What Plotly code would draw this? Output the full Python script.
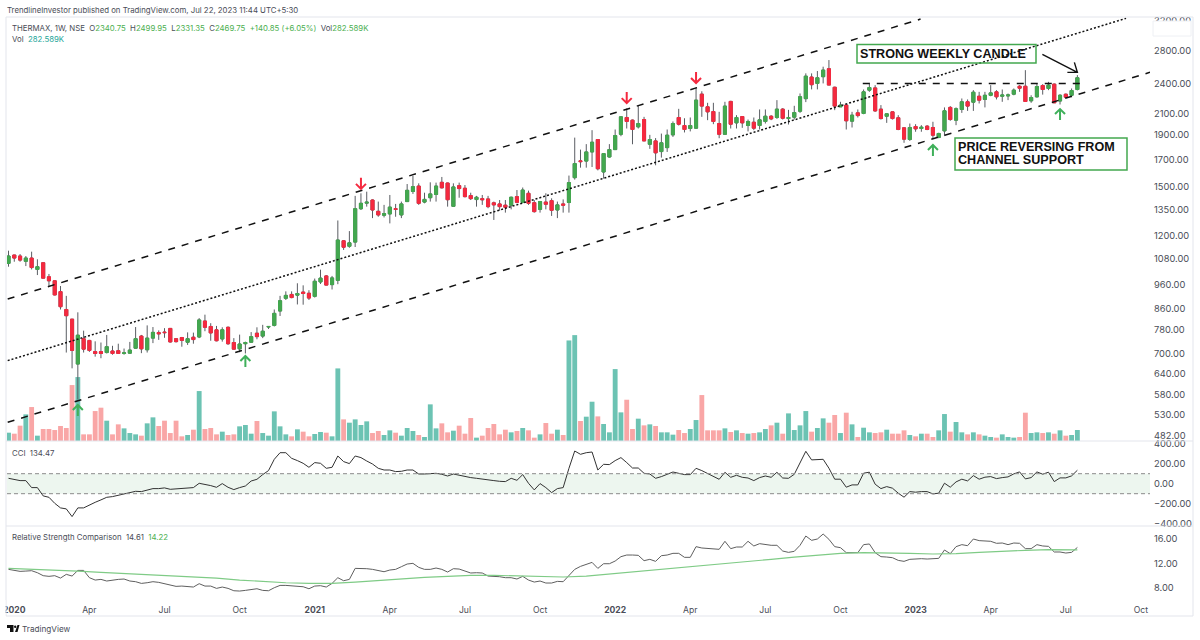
import math
import pandas as pd
import plotly.graph_objects as go

# Weekly bars, THERMAX NSE
weeks = pd.date_range('2019-12-30', periods=186, freq='7D')

opens = [
    1058, 1099, 1094, 1068, 1084, 1029, 1061, 995, 977, 930,
    857, 820, 668, 750, 744, 707, 707, 704, 709, 710,
    701, 702, 718, 759, 713, 752, 771, 773, 786, 750,
    754, 738, 755, 756, 813, 793, 781, 749, 790, 737,
    716, 733, 738, 769, 759, 791, 797, 851, 902, 918,
    915, 928, 923, 910, 972, 999, 960, 979, 1173, 1144,
    1166, 1358, 1393, 1413, 1342, 1318, 1326, 1358, 1320, 1403,
    1469, 1506, 1400, 1428, 1449, 1532, 1527, 1373, 1509, 1491,
    1442, 1416, 1422, 1420, 1395, 1388, 1380, 1380, 1435, 1398,
    1457, 1396, 1354, 1400, 1409, 1350, 1388, 1397, 1565, 1690,
    1688, 1760, 1863, 1606, 1720, 1779, 1908, 2060, 2035, 1974,
    2041, 1823, 1851, 1763, 1795, 1903, 2060, 1986, 1959, 1962,
    2292, 2163, 2117, 2004, 1908, 2217, 2010, 2069, 1986, 2016,
    1986, 2023, 2072, 2060, 2140, 2050, 2063, 2120, 2245, 2478,
    2407, 2482, 2574, 2365, 2163, 2180, 2026, 2104, 2098, 2334,
    2358, 2140, 2072, 2114, 2057, 1965, 1863, 1977, 1959, 1980,
    1968, 1880, 1938, 2157, 2035, 2137, 2213, 2209, 2270, 2237,
    2280, 2316, 2270, 2273, 2292, 2376, 2376, 2223, 2264, 2384,
    2352, 2399, 2221, 2291, 2280, 2340.75,
]
highs = [
    1121, 1100, 1104, 1094, 1116, 1078, 1061, 1008, 977, 954,
    912, 820, 846, 778, 746, 741, 737, 763, 726, 733,
    717, 739, 791, 763, 797, 791, 779, 787, 787, 752,
    756, 772, 771, 824, 837, 805, 795, 790, 793, 752,
    764, 740, 773, 790, 799, 793, 857, 912, 931, 931,
    966, 957, 936, 987, 1028, 1003, 999, 1287, 1177, 1226,
    1440, 1457, 1468, 1417, 1403, 1382, 1446, 1388, 1403, 1520,
    1577, 1525, 1461, 1532, 1530, 1570, 1530, 1525, 1530, 1513,
    1461, 1440, 1446, 1440, 1403, 1413, 1413, 1435, 1479, 1496,
    1475, 1413, 1407, 1457, 1424, 1403, 1417, 1580, 1879, 1779,
    1824, 1944, 1863, 1747, 1824, 1950, 2066, 2147, 2041, 2180,
    2066, 1903, 1875, 1914, 1950, 2023, 2143, 2053, 2060, 2364,
    2322, 2203, 2203, 2114, 2213, 2223, 2082, 2072, 2041, 2060,
    2137, 2137, 2082, 2230, 2150, 2133, 2173, 2299, 2520, 2520,
    2547, 2598, 2678, 2371, 2213, 2180, 2114, 2137, 2341, 2413,
    2388, 2180, 2098, 2114, 2082, 1968, 2004, 1998, 1989, 1989,
    2020, 1921, 2157, 2170, 2157, 2247, 2237, 2334, 2316, 2316,
    2388, 2334, 2341, 2298, 2352, 2388, 2557, 2280, 2406, 2399,
    2424, 2406, 2291, 2298, 2352, 2499.95,
]
lows = [
    1042, 1066, 1066, 1045, 1029, 1003, 989, 954, 914, 857,
    704, 655, 568, 704, 706, 691, 686, 701, 697, 700,
    697, 700, 716, 702, 704, 735, 746, 753, 737, 737,
    723, 729, 733, 752, 776, 743, 741, 740, 729, 714,
    705, 701, 737, 748, 752, 784, 793, 832, 895, 902,
    877, 876, 895, 905, 963, 957, 939, 962, 1125, 1136,
    1140, 1350, 1371, 1301, 1309, 1305, 1270, 1309, 1301, 1403,
    1453, 1382, 1392, 1403, 1403, 1490, 1371, 1371, 1428, 1430,
    1413, 1371, 1382, 1361, 1290, 1346, 1334, 1354, 1392, 1392,
    1382, 1334, 1334, 1354, 1314, 1301, 1334, 1334, 1551, 1638,
    1638, 1643, 1618, 1558, 1715, 1779, 1891, 1959, 1823, 1959,
    1851, 1785, 1656, 1715, 1760, 1885, 1986, 1924, 1933, 1959,
    2066, 2035, 1998, 1874, 1908, 1959, 1959, 1965, 1933, 1944,
    1950, 2004, 2035, 2047, 2041, 1995, 2041, 2104, 2210, 2342,
    2342, 2407, 2389, 2130, 2163, 1950, 1968, 2060, 2091, 2316,
    2114, 2041, 2010, 2041, 1944, 1835, 1851, 1930, 1930, 1944,
    1871, 1874, 1892, 2029, 1989, 2104, 2123, 2123, 2196, 2157,
    2270, 2237, 2213, 2230, 2280, 2316, 2216, 2203, 2257, 2287,
    2334, 2203, 2186, 2260, 2260, 2331.35,
]
closes = [
    1094, 1084, 1074, 1084, 1038, 1042, 989, 977, 916, 868,
    833, 711, 762, 715, 711, 701, 701, 723, 701, 701,
    703, 712, 750, 716, 752, 772, 767, 771, 739, 740,
    744, 750, 747, 817, 790, 770, 743, 781, 733, 715,
    732, 737, 757, 757, 776, 793, 842, 892, 914, 905,
    922, 922, 903, 975, 989, 958, 990, 1177, 1139, 1162,
    1358, 1392, 1399, 1350, 1320, 1328, 1368, 1354, 1388, 1477,
    1502, 1392, 1417, 1453, 1506, 1494, 1415, 1500, 1489, 1435,
    1422, 1431, 1415, 1371, 1382, 1371, 1367, 1431, 1398, 1479,
    1392, 1340, 1403, 1386, 1348, 1382, 1380, 1530, 1669, 1684,
    1760, 1840, 1630, 1747, 1779, 1897, 2066, 2023, 1950, 2004,
    1851, 1863, 1753, 1835, 1900, 2004, 1998, 1950, 1986, 2230,
    2170, 2114, 2023, 1908, 2170, 1998, 2060, 2010, 2023, 1962,
    2038, 2072, 2047, 2140, 2053, 2060, 2107, 2265, 2488, 2393,
    2470, 2558, 2389, 2170, 2180, 2029, 2082, 2078, 2316, 2362,
    2123, 2050, 2095, 2050, 1950, 1866, 1968, 1956, 1971, 1950,
    1900, 1915, 2124, 2041, 2144, 2213, 2170, 2312, 2230, 2280,
    2305, 2264, 2283, 2283, 2334, 2355, 2216, 2257, 2373, 2341,
    2388, 2203, 2280, 2260, 2330, 2469.75,
]
volume_k = [
    214, 188, 394, 685, 873, 137, 308, 308, 282, 385,
    334, 1438, 1644, 171, 171, 770, 856, 522, 171, 428,
    325, 205, 171, 137, 454, 608, 385, 522, 205, 522,
    120, 154, 291, 1284, 308, 334, 171, 240, 154, 171,
    377, 411, 188, 514, 205, 137, 762, 377, 171, 120,
    300, 240, 120, 180, 231, 214, 120, 1866, 556, 471,
    556, 411, 505, 205, 257, 154, 274, 214, 137, 334,
    257, 154, 103, 942, 325, 454, 223, 265, 394, 188,
    591, 86, 137, 334, 437, 171, 291, 223, 257, 334,
    274, 86, 171, 462, 188, 291, 154, 2585, 2722, 514,
    625, 1010, 633, 437, 223, 1849, 736, 1061, 308, 574,
    402, 428, 385, 223, 223, 163, 282, 205, 308, 539,
    1181, 274, 274, 274, 325, 231, 274, 205, 188, 205,
    223, 308, 402, 471, 188, 710, 282, 402, 770, 240,
    334, 582, 471, 668, 205, 728, 428, 103, 342, 223,
    205, 223, 291, 188, 188, 274, 154, 120, 188, 188,
    103, 274, 693, 240, 488, 223, 171, 223, 171, 137,
    103, 86, 171, 103, 86, 103, 728, 205, 223, 205,
    223, 188, 274, 137, 154, 282.589,
]
cci = [
    54, 44, 31, 31, -39, -39, -122, -136, -196, -242,
    -252, -329, -242, -242, -212, -186, -162, -136, -129, -116,
    -102, -92, -76, -79, -62, -49, -49, -42, -56, -52,
    -49, -42, -39, 4, -6, -19, -36, 1, -36, -59,
    -39, -23, 27, 44, 91, 131, 244, 310, 310, 254,
    231, 204, 164, 211, 204, 154, 164, 277, 221, 201,
    277, 261, 227, 197, 154, 137, 137, 121, 124, 137,
    137, 97, 97, 101, 104, 94, 77, 97, 84, 67,
    61, 54, 44, 34, 31, 24, 21, 54, 34, 91,
    4, -62, 1, -39, -89, -49, -39, 154, 327, 294,
    310, 317, 137, 194, 191, 231, 261, 211, 157, 157,
    104, 97, 54, 71, 94, 117, 104, 91, 91, 154,
    131, 104, 77, 44, 114, 64, 84, 64, 57, 31,
    61, 77, 64, 114, 57, 54, 94, 204, 324, 238,
    244, 244, 155, 45, 45, -35, -12, -12, 105, 115,
    -5, -49, -29, -45, -95, -135, -79, -85, -79, -79,
    -102, -95, 5, -35, 18, 45, 28, 81, 45, 65,
    71, 51, 61, 68, 98, 118, 48, 61, 118, 95,
    115, 21, 58, 58, 78, 134.47,
]
rs = [
    11.00, 10.83, 10.67, 10.72, 10.78, 10.45, 9.96, 9.85, 9.96, 9.57,
    10.18, 9.90, 10.83, 10.83, 9.63, 9.24, 9.35, 9.08, 9.24, 9.35,
    9.41, 9.08, 8.97, 8.69, 8.80, 8.97, 8.86, 8.64, 8.31, 8.20,
    8.25, 8.14, 8.09, 8.64, 8.25, 8.25, 7.87, 8.09, 7.87, 7.48,
    7.43, 7.54, 7.65, 7.81, 7.54, 7.48, 7.98, 8.36, 8.36, 8.25,
    8.14, 8.14, 7.81, 8.25, 8.31, 8.09, 8.69, 9.63, 9.13, 9.35,
    11.16, 11.16, 11.11, 11.00, 10.83, 10.61, 10.89, 11.00, 11.44, 11.88,
    11.99, 11.33, 11.00, 11.00, 11.22, 11.00, 10.56, 11.11, 11.05, 10.67,
    10.40, 10.45, 10.40, 9.90, 9.90, 9.79, 9.63, 9.63, 9.41, 9.85,
    9.24, 8.91, 9.08, 8.75, 8.75, 9.02, 8.97, 10.07, 11.00, 11.49,
    11.88, 12.15, 11.16, 11.93, 11.93, 12.37, 13.09, 13.36, 13.36, 13.31,
    12.43, 12.65, 12.32, 13.25, 13.36, 13.64, 13.64, 12.98, 12.98, 14.74,
    14.52, 14.41, 14.30, 14.30, 15.62, 14.41, 14.68, 14.68, 15.62, 14.85,
    15.23, 15.07, 14.96, 14.96, 14.02, 13.80, 13.97, 14.96, 16.49, 15.78,
    16.00, 16.82, 15.95, 14.74, 14.57, 13.75, 13.80, 13.75, 15.07, 15.18,
    13.75, 13.09, 13.03, 12.92, 12.48, 12.32, 12.65, 12.76, 12.76, 12.70,
    12.76, 12.81, 14.19, 13.58, 14.74, 15.07, 14.90, 16.00, 15.73, 15.73,
    15.62, 15.29, 15.34, 15.07, 15.34, 15.29, 14.41, 14.41, 15.07, 14.85,
    14.79, 13.86, 13.86, 13.69, 13.80, 14.61,
]
# the slow average is smooth, so it is read every fourth bar
rs_ma_bars = list(range(0, 186, 4)) + [185]
rs_ma = [
    11.16, 11.05, 10.89, 10.72, 10.51, 10.34, 10.12, 9.96, 9.79, 9.57,
    9.24, 8.97, 8.80, 8.69, 8.69, 8.91, 9.19, 9.41, 9.68, 9.85,
    10.01, 10.01, 9.96, 9.85, 9.74, 9.90, 10.23, 10.67, 10.94, 11.22,
    11.55, 11.93, 12.26, 12.65, 13.03, 13.36, 13.64, 13.75, 13.75, 13.64,
    13.53, 13.58, 13.80, 14.02, 14.13, 14.24, 14.24, 14.22,
]

price_ticks = [3200, 2800, 2400, 2100, 1900, 1700, 1500, 1350, 1200, 1080, 960,
               860, 780, 700, 640, 580, 530, 482]
cci_ticks = [400, 200, 0, -200, -400]
rs_ticks = [16, 12, 8]
time_ticks = ['2020-01-06', '2020-04-06', '2020-07-06', '2020-10-05', '2021-01-04',
              '2021-04-05', '2021-07-05', '2021-10-04', '2022-01-03', '2022-04-04',
              '2022-07-04', '2022-10-03', '2023-01-02', '2023-04-03', '2023-07-03',
              '2023-10-02']
time_labels = ['<b>2020</b>', 'Apr', 'Jul', 'Oct', '<b>2021</b>', 'Apr', 'Jul', 'Oct',
               '<b>2022</b>', 'Apr', 'Jul', 'Oct', '<b>2023</b>', 'Apr', 'Jul', 'Oct']

# drawn channel: (start date, start price, end date, end price, dash)
channel_lines = [
    ('2019-12-29', 899, '2023-01-08', 3229, '7px,7px'),
    ('2019-12-29', 678.5, '2023-09-14', 3240, '2px,2px'),
    ('2019-12-29', 512, '2023-10-13', 2532, '7px,7px'),
    ('2022-10-30', 2406, '2023-07-28', 2406, '7px,7px'),
]
up_arrows = [(12, 554), (41, 693), (160, 1817), (182, 2141)]
down_arrows = [(61, 1487), (107, 2200), (119, 2411)]

GREEN = '#43a84f'
RED = '#f5293f'
TEAL = '#6cc3b3'
PINK = '#f9a6a6'
WICK = '#5a5d63'
FRAME = '#e3e5ec'
TEXT = '#4a4d57'
FONT = 'Inter, Liberation Sans, sans-serif'
W, H = 1200, 640


def px(x):
    return x / W


def py(y):
    return 1 - y / H


fig = go.Figure()

vol_colors = [TEAL if c >= o else PINK for o, c in zip(opens, closes)]
fig.add_trace(go.Bar(x=weeks, y=volume_k, marker_color=vol_colors, marker_line_width=0,
                     yaxis='y', name='Vol'))

# wicks first, then bodies on top so the wick colour stays off the body outline
fig.add_trace(go.Candlestick(
    x=weeks, open=opens, high=highs, low=lows, close=closes, yaxis='y2', whiskerwidth=0,
    increasing=dict(line=dict(color=WICK, width=1), fillcolor=WICK),
    decreasing=dict(line=dict(color=WICK, width=1), fillcolor=WICK),
))
fig.add_trace(go.Candlestick(
    x=weeks, open=opens, close=closes, yaxis='y2', whiskerwidth=0,
    high=[max(o, c) for o, c in zip(opens, closes)],
    low=[min(o, c) for o, c in zip(opens, closes)],
    increasing=dict(line=dict(color=GREEN, width=1), fillcolor=GREEN),
    decreasing=dict(line=dict(color=RED, width=1), fillcolor=RED),
))

for x0, p0, x1, p1, dash in channel_lines:
    fig.add_trace(go.Scatter(x=[x0, x1], y=[p0, p1], mode='lines', yaxis='y2',
                             line=dict(color='#111111', width=1.5, dash=dash)))

fig.add_trace(go.Scatter(x=weeks, y=cci, mode='lines', yaxis='y3',
                         line=dict(color='#333333', width=1)))
fig.add_trace(go.Scatter(x=weeks, y=rs, mode='lines', yaxis='y4',
                         line=dict(color='#5f5f5f', width=1)))
fig.add_trace(go.Scatter(x=weeks[rs_ma_bars], y=rs_ma, mode='lines', yaxis='y4',
                         line=dict(color='#7fcb86', width=1.2)))


def arrow_shape(bar, price, color, path, width=2):
    # path is in pixels around the arrow tip
    return dict(type='path', xref='x', yref='y2', xsizemode='pixel', ysizemode='pixel',
                xanchor=weeks[bar], yanchor=price, path=path,
                line=dict(color=color, width=width))


shapes = [
    # CCI band
    dict(type='rect', xref='x domain', yref='y3', x0=0, x1=1, y0=-100, y1=100,
         fillcolor='#edf6ef', line_width=0, layer='below'),
    dict(type='line', xref='x domain', yref='y3', x0=0, x1=1, y0=100, y1=100,
         line=dict(color='#8a8a8a', width=1, dash='4px,3px')),
    dict(type='line', xref='x domain', yref='y3', x0=0, x1=1, y0=-100, y1=-100,
         line=dict(color='#8a8a8a', width=1, dash='4px,3px')),
    # pane frame
    dict(type='rect', xref='paper', yref='paper', x0=px(6), x1=px(1193), y0=py(616), y1=py(17),
         line=dict(color=FRAME, width=1)),
    dict(type='line', xref='paper', yref='paper', x0=px(6), x1=px(1193), y0=py(441), y1=py(441),
         line=dict(color=FRAME, width=1)),
    dict(type='line', xref='paper', yref='paper', x0=px(6), x1=px(1193), y0=py(526), y1=py(526),
         line=dict(color=FRAME, width=1)),
    # hides the clipped start of the first time label and the top price label
    dict(type='rect', xref='paper', yref='paper', x0=0, x1=px(5.5), y0=py(616), y1=py(600),
         fillcolor='white', line_width=0, layer='above'),
    dict(type='rect', xref='paper', yref='paper', x0=px(1153), x1=px(1191), y0=py(36), y1=py(21),
         fillcolor='white', line=dict(color='#eef0f4', width=1), layer='above'),
    # text boxes
    dict(type='rect', xref='paper', yref='paper', x0=px(857), x1=px(1036), y0=py(63), y1=py(44.5),
         line=dict(color=GREEN, width=1.5)),
    dict(type='rect', xref='paper', yref='paper', x0=px(955), x1=px(1127), y0=py(170), y1=py(138),
         line=dict(color=GREEN, width=1.5)),
    # TradingView mark
    dict(type='path', xref='paper', yref='paper', fillcolor='#111111', line_width=0,
         path=f'M {px(7)} {py(625)} L {px(13.5)} {py(625)} L {px(13.5)} {py(632)} L {px(10)} {py(632)} '
              f'L {px(10)} {py(628)} L {px(7)} {py(628)} Z '
              f'M {px(15)} {py(632)} L {px(17.5)} {py(625)} L {px(19.5)} {py(625)} L {px(17.5)} {py(632)} Z'),
    dict(type='circle', xref='paper', yref='paper', fillcolor='#111111', line_width=0,
         x0=px(14), x1=px(16.4), y0=py(628), y1=py(625.4)),
]
for bar, price in up_arrows:
    shapes.append(arrow_shape(bar, price, '#3fb05a', 'M 0 -11 L 0 0 M -5 -5 L 0 0 L 5 -5'))
for bar, price in down_arrows:
    shapes.append(arrow_shape(bar, price, RED, 'M 0 11 L 0 0 M -5 5 L 0 0 L 5 5'))
shapes.append(arrow_shape(185, 2532, '#111111', 'M -35 18 L 0 0 M -3 10 L 0 0 L -10 0', 1.4))


def label(x, y, text, size=7.8, color=TEXT):
    return dict(xref='paper', yref='paper', x=px(x - 2), y=py(y), text=text, showarrow=False,
                xanchor='left', yanchor='middle', align='left',
                font=dict(size=size, color=color, family=FONT))


def up(value):
    return f'<span style="color:#4caf50">{value}</span>'


def note(x, y, text):
    ann = label(x, y, f'<b>{text}</b>', size=12.6, color='#111111')
    ann['font']['family'] = 'Liberation Sans'
    return ann


annotations = [
    label(7, 10, 'TrendlineInvestor published on TradingView.com, Jul 22, 2023 11:44 UTC+5:30'),
    label(12, 28, 'THERMAX, 1W, NSE  O' + up('2340.75') + '  H' + up('2499.95') + '  L' + up('2331.35')
          + '  C' + up('2469.75') + '  ' + up('+140.85 (+6.05%)') + '  Vol' + up('282.589K')),
    label(12, 39, 'Vol  <span style="color:#26a69a">282.589K</span>'),
    label(12, 453, 'CCI  134.47'),
    label(12, 537, 'Relative Strength Comparison  14.61  ' + up('14.22')),
    label(22, 629, 'TradingView', size=8.2),
    note(860, 54, 'STRONG WEEKLY CANDLE'),
    note(958, 147, 'PRICE REVERSING FROM'),
    note(958, 160, 'CHANNEL SUPPORT'),
]

tick_font = dict(size=9.3, color=TEXT, family=FONT)
fig.update_layout(
    width=W, height=H, margin=dict(l=0, r=0, t=0, b=0),
    paper_bgcolor='white', plot_bgcolor='white',
    showlegend=False, bargap=0.16, boxgap=0.24, boxmode='overlay',
    shapes=shapes, annotations=annotations,
    xaxis=dict(domain=[px(7), px(1150)], anchor='y4', type='date', automargin=False,
               range=['2019-12-28 04:00', '2023-10-13'], rangeslider=dict(visible=False),
               tickmode='array', tickvals=time_ticks, ticktext=time_labels, ticks='',
               showgrid=False, zeroline=False, showline=False,
               tickfont=dict(size=8.6, color=TEXT, family=FONT), ticklabelstandoff=6),
    yaxis=dict(domain=[py(441), py(17)], range=[0, 10900], visible=False, anchor='x',
               showgrid=False, zeroline=False, automargin=False),
    yaxis2=dict(domain=[py(441), py(17)], overlaying='y', type='log', anchor='x', side='right',
                range=[math.log10(470), math.log10(3260)], automargin=False,
                tickmode='array', tickvals=price_ticks, ticktext=[f'{v:.2f}' for v in price_ticks],
                showgrid=False, zeroline=False, ticks='', tickfont=tick_font, ticklabelstandoff=3),
    yaxis3=dict(domain=[py(526), py(441)], range=[-423, 427], anchor='x', side='right',
                tickmode='array', tickvals=cci_ticks, automargin=False,
                ticktext=[f'{v:.2f}'.replace('-', '\u2212') for v in cci_ticks],
                showgrid=False, zeroline=False, ticks='', tickfont=tick_font, ticklabelstandoff=3),
    yaxis4=dict(domain=[py(597), py(526)], range=[6.45, 18.14], anchor='x', side='right',
                tickmode='array', tickvals=rs_ticks, ticktext=[f'{v:.2f}' for v in rs_ticks],
                showgrid=False, zeroline=False, ticks='', automargin=False, tickfont=tick_font,
                ticklabelstandoff=3),
)

fig.write_html("out.html", config={'displayModeBar': False},
               post_script="document.body.style.margin='0';")
